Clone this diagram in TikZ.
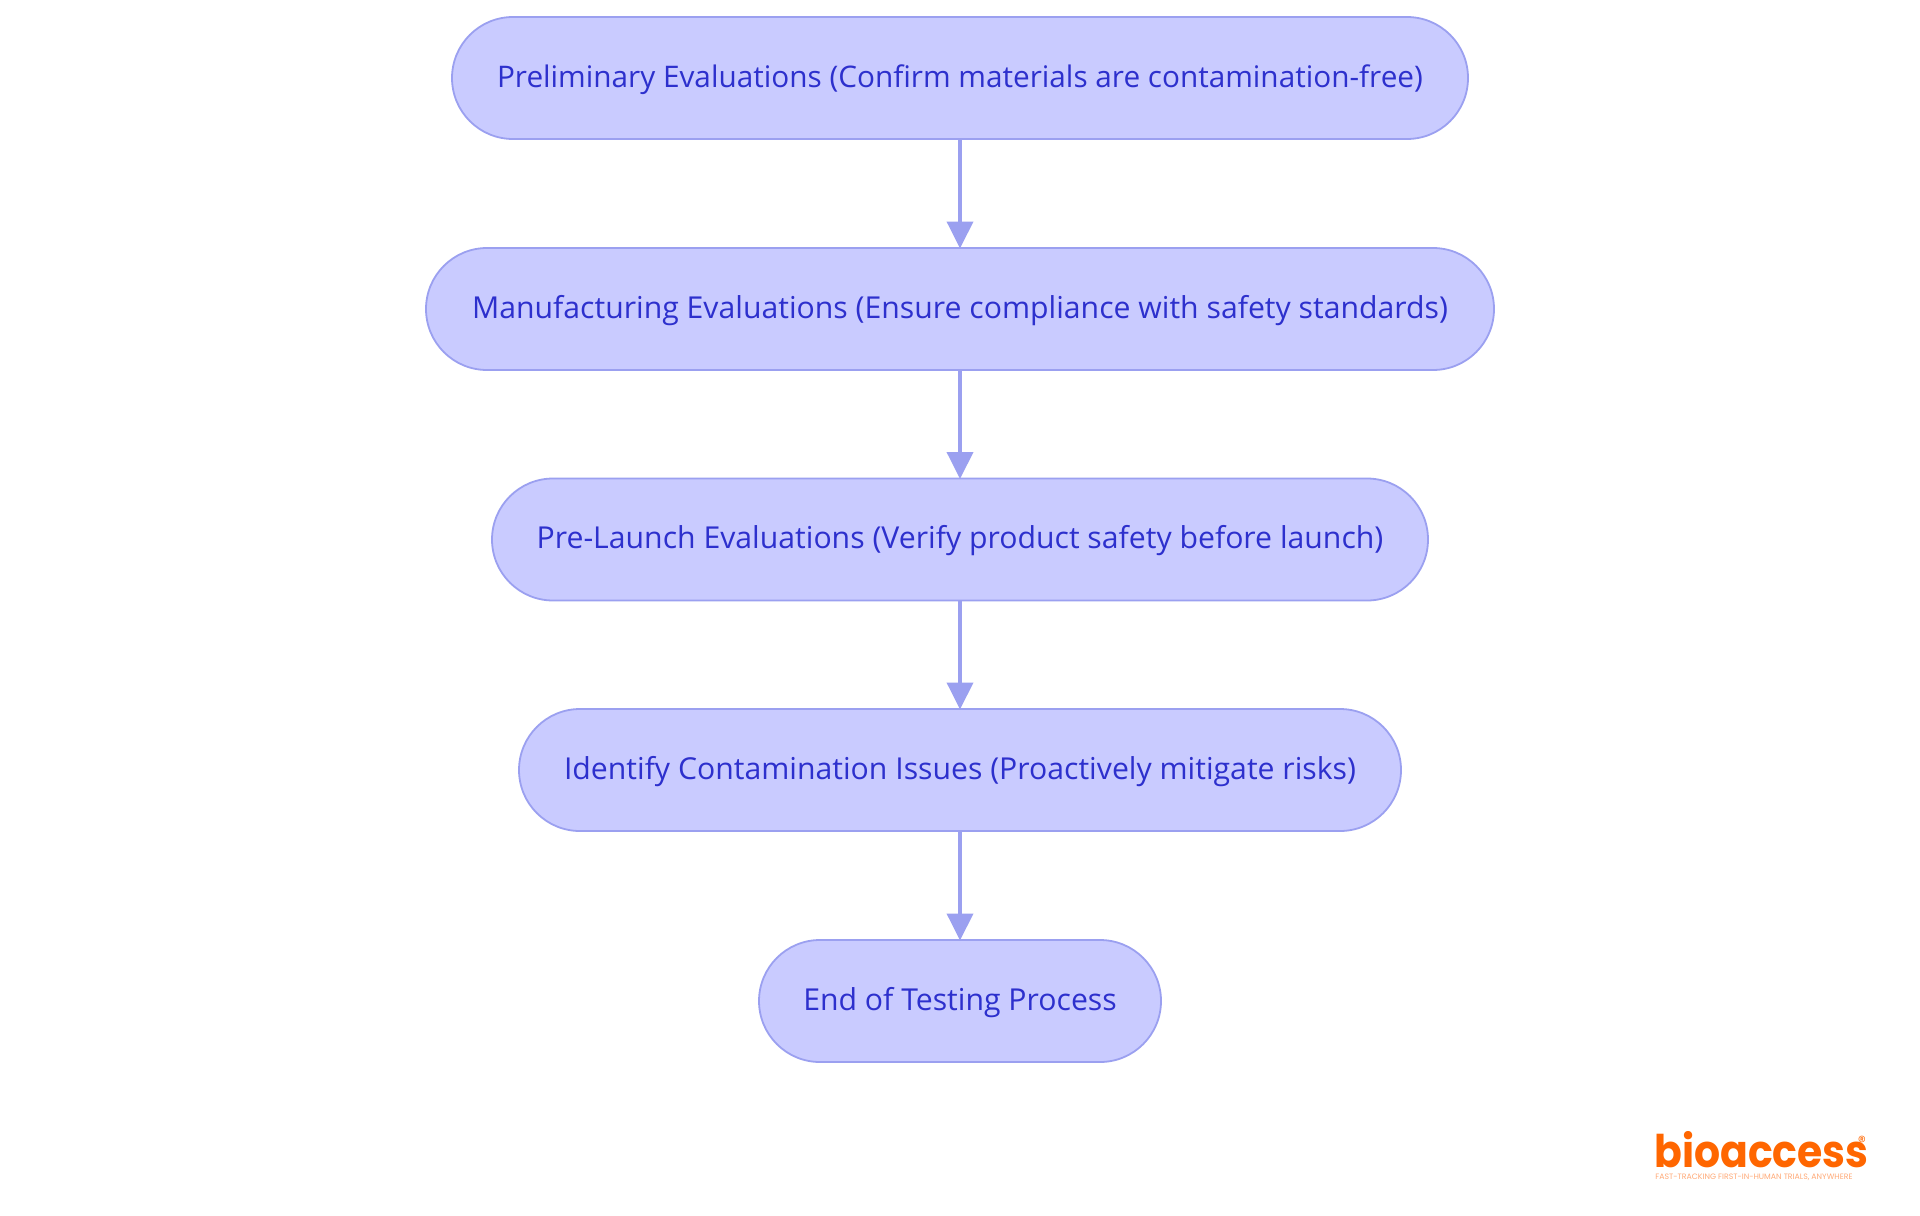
\documentclass[tikz,border=0pt]{standalone}
\usepackage{fontspec}
\usetikzlibrary{arrows.meta}
\setmainfont{Open Sans}
\newfontfamily\logofont{Poppins}
\definecolor{nodefill}{RGB}{201,203,255}
\definecolor{nodeline}{RGB}{155,160,240}
\definecolor{nodetext}{RGB}{45,48,205}
\definecolor{logoorange}{RGB}{255,102,0}
\definecolor{logotag}{RGB}{255,170,120}
\tikzset{
  flownode/.style={draw=nodeline,fill=nodefill,line width=0.9pt,rounded corners=30.5pt,
    minimum height=61pt,inner sep=0pt,text height=12.2pt,text depth=3pt,text=nodetext,font=\fontsize{15.1}{17}\selectfont},
  flowarrow/.style={draw=nodeline,line width=1.9pt,-{Triangle[length=13.5pt,width=13pt,fill=nodeline]},shorten >=-0.7pt}
}
\begin{document}
\begin{tikzpicture}[x=0.5pt,y=-0.5pt]
\useasboundingbox (0,0) rectangle (1920,1215);
\fill[white] (0,0) rectangle (1920,1215);
\node[flownode,minimum width=508pt,font=\fontsize{14.87}{17}\selectfont] (n1) at (960,78) {Preliminary Evaluations (Confirm materials are contamination-free)};
\node[flownode,minimum width=534pt] (n2) at (960,309) {Manufacturing Evaluations (Ensure compliance with safety standards)};
\node[flownode,minimum width=468pt] (n3) at (960,539.5) {Pre-Launch Evaluations (Verify product safety before launch)};
\node[flownode,minimum width=441pt] (n4) at (960,770) {Identify Contamination Issues (Proactively mitigate risks)};
\node[flownode,minimum width=201pt] (n5) at (960,1001) {End of Testing Process};
\draw[flowarrow] (n1) -- (n2);
\draw[flowarrow] (n2) -- (n3);
\draw[flowarrow] (n3) -- (n4);
\draw[flowarrow] (n4) -- (n5);
\node[anchor=base west,inner sep=0pt,xscale=0.91,text=logoorange,font=\logofont\bfseries\fontsize{22.5}{26}\selectfont] (logo) at (1654,1167) {bioaccess};
\node[inner sep=0pt,text=logoorange,font=\logofont\fontsize{8}{9}\selectfont] (reg) at (1862,1142) {®};
\node[anchor=base west,inner sep=0pt,text=logotag,font=\logofont\fontsize{3.9}{5}\selectfont] (tag) at (1655,1179) {FAST-TRACKING FIRST-IN-HUMAN TRIALS, ANYWHERE};
\end{tikzpicture}
\end{document}
